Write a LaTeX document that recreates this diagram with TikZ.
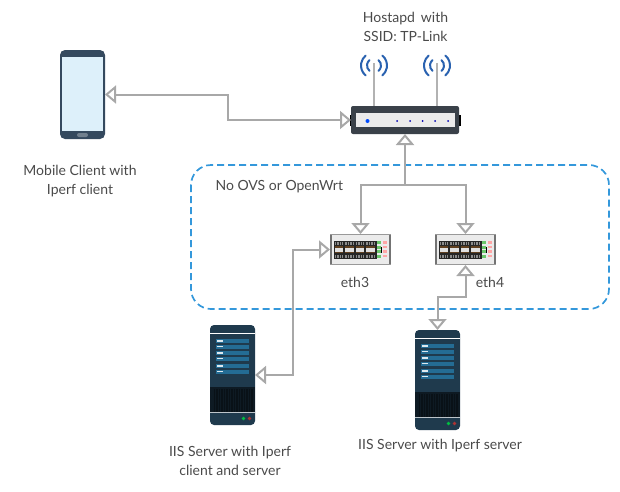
\documentclass[tikz,border=0pt]{standalone}
\usepackage{fontspec}
\setmainfont{Lato}
\usetikzlibrary{arrows.meta}
\definecolor{linkgray}{HTML}{A8A8A8}
\definecolor{zoneblue}{HTML}{3498DB}
\definecolor{wifiblue}{HTML}{2A62B0}
\definecolor{textgray}{HTML}{4A4A4A}
\definecolor{routerdark}{HTML}{3A4149}
\definecolor{phonedark}{HTML}{34495E}
\definecolor{phonescreen}{HTML}{DDF0FA}
\definecolor{serverdark}{HTML}{1F3A4D}
\definecolor{serverbar}{HTML}{246C94}
\tikzset{
    link/.style={draw=linkgray,line width=2pt,{Triangle[open,length=11pt,width=18pt]}-{Triangle[open,length=11pt,width=18pt]}},
    linkend/.style={draw=linkgray,line width=2pt,{Triangle[open,length=11pt,width=18pt]}-},
    icon/.style={inner sep=0pt,outer sep=0pt},
    caption/.style={text=textgray,font=\fontsize{14}{19}\selectfont,align=center},
    serverpic/.pic={
        \fill[serverdark] (-22.5,-50) [rounded corners=4pt] rectangle (22.5,50);
        \fill[white] (-22.5,-42) rectangle (22.5,-41.2);
        \foreach \y in {-34,-28.5,-22,-16.5,-9,-3.5}{
            \fill[serverbar] (-16.5,\y-2) rectangle (16.5,\y+2);
            \fill[white!85!serverbar] (-15.5,\y-0.7) rectangle (-9.5,\y+0.7);
        }
        \fill[black!55!serverdark] (-22.5,12) rectangle (22.5,37);
        \foreach \x in {-19,-16.5,...,19}{
            \fill[black!70!serverdark] (\x,14) rectangle (\x+1.5,36.5);
        }
        \fill[white!70!serverdark] (-22.5,37) rectangle (22.5,38);
        \fill[green!50!teal] (11,43.5) circle (1.8);
        \fill[red!60!black!80!white] (17,43.5) circle (1.8);
    },
    switchpic/.pic={
        \fill[black!8] (-30.5,-15.5) rectangle (30.5,15.5);
        \fill[black!55] (-30.5,-15.5) rectangle (-28.5,15.5);
        \fill[black!55] (28.5,-15.5) rectangle (30.5,15.5);
        \fill[black!40] (-30.5,-15.5) rectangle (30.5,-14.5);
        \fill[black!40] (-30.5,14.5) rectangle (30.5,15.5);
        \fill[black!85] (-27,-9) rectangle (16,9);
        \foreach \x in {-26,-15.5,-5,5.5}{
            \fill[black!12] (\x,-2) rectangle (\x+8.5,2);
            \fill[brown!50!black] (\x,-3.5) rectangle (\x+8.5,-2);
            \fill[brown!50!black] (\x,2) rectangle (\x+8.5,3.5);
            \fill[black!45] (\x,-8) rectangle (\x+8.5,-5);
            \fill[black!45] (\x,5) rectangle (\x+8.5,8);
            \foreach \d in {1.5,4,6.5}{
                \fill[black!85] (\x+\d,-8) rectangle (\x+\d+0.8,-5);
                \fill[black!85] (\x+\d,5) rectangle (\x+\d+0.8,8);
            }
        }
        \foreach \y in {-7,-2.5,2,6.5}{
            \fill[green!45!gray!80!white] (16.5,\y-1.5) rectangle (20,\y+1.5);
            \fill[red!35] (22,\y-1.2) rectangle (26,\y+1.2);
        }
        \fill[black] (20.5,-3) rectangle (21.5,3);
    },
    wavepic/.pic={
        \foreach \r in {7,13}{
            \draw[wifiblue,line width=2pt,line cap=round] (0,0)+(-50:\r) arc (-50:50:\r);
            \draw[wifiblue,line width=2pt,line cap=round] (0,0)+(130:\r) arc (130:230:\r);
        }
    }
}
\begin{document}
\begin{tikzpicture}[x=1pt,y=-1pt]
    \useasboundingbox (0,0) rectangle (620,491);

    % zone behind the switches
    \draw[zoneblue,line width=1.7pt,dash pattern=on 7pt off 4pt,rounded corners=20pt] (191,165) rectangle (609,309);
    \node[caption,anchor=west] (zonetext) at (212,187) {No OVS or OpenWrt};

    % phone
    \node[icon,minimum width=45pt,minimum height=90pt] (phone) at (82.5,94.5) {};
    \fill[phonedark,rounded corners=5pt] (60,50) rectangle (105,139);
    \fill[phonescreen] (62,57) rectangle (103,131);
    \fill[white!30!phonedark,rounded corners=2pt] (77,133) rectangle (88,137);
    \node[caption] (phonetext) at (80,181.5) {Mobile Client with\\Iperf client};

    % router
    \foreach \x in {374,437}{
        \draw[black!30,line width=1.5pt] (\x,63) -- (\x,106);
        \pic at (\x,65.5) {wavepic};
    }
    \node[icon,minimum width=108pt,minimum height=28pt] (router) at (405,120) {};
    \fill[black] (349.5,115) rectangle (460.5,126);
    \fill[routerdark,rounded corners=2pt] (router.north west) rectangle (router.south east);
    \fill[black!8] (356,113) rectangle (455,127);
    \fill[blue!70!cyan] (367.5,121) circle (2);
    \foreach \x in {397,410,422.5,435,448}{
        \fill[blue!70!black] (\x,121) circle (1);
    }
    \node[caption] (routertext) at (405.5,27) {Hostapd\, with\\SSID: TP-Link};

    % switches
    \node[icon,minimum width=61pt,minimum height=31pt] (swA) at (360.5,249.5) {};
    \pic at (swA) {switchpic};
    \node[caption] (swAtext) at (355,282) {eth3};
    \node[icon,minimum width=61pt,minimum height=31pt] (swB) at (465.5,249.5) {};
    \pic at (swB) {switchpic};
    \node[caption] (swBtext) at (490,282) {eth4};

    % servers
    \node[icon,minimum width=45pt,minimum height=100pt] (srvA) at (232.5,375) {};
    \pic at (srvA) {serverpic};
    \node[caption] (srvAtext) at (230,460.5) {IIS Server with Iperf\\client and server};
    \node[icon,minimum width=45pt,minimum height=100pt] (srvB) at (437.5,380) {};
    \pic at (srvB) {serverpic};
    \node[caption] (srvBtext) at (440,446) {IIS Server with Iperf server};

    % connectors
    \coordinate (hub) at (405,185);
    \draw[link] (phone.east) -- ++(123,0) |- (router.west);
    \draw[linkend] (router.south) -- (hub);
    \draw[linkend] (swA.north) |- (hub);
    \draw[linkend] (swB.north) |- (hub);
    \draw[link] (swA.west) -- ++(-37,0) |- (srvA.east);
    \draw[link] (swB.south) -- ++(0,32) -| (srvB.north);
\end{tikzpicture}
\end{document}
